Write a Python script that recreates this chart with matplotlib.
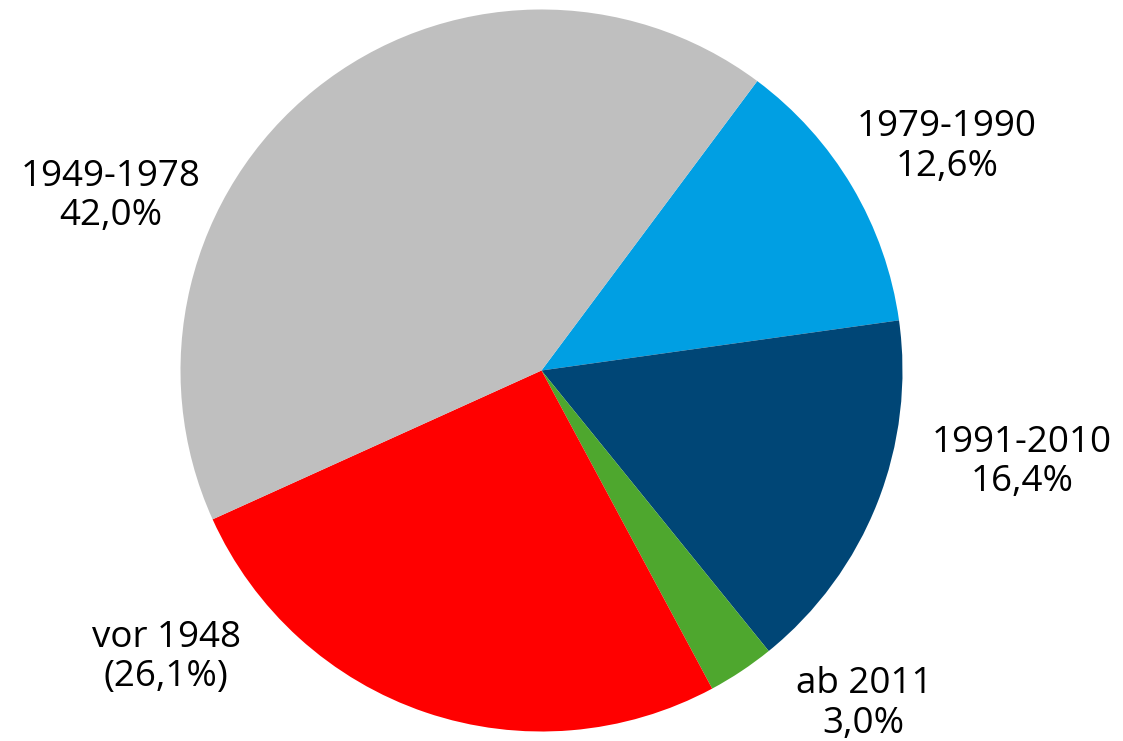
import matplotlib.pyplot as plt

plt.rcParams["font.family"] = ["Open Sans", "DejaVu Sans"]

# data (clockwise from the grey/blue edge)
labels = ["1979-1990\n12,6%", "1991-2010\n16,4%", "ab 2011\n3,0%",
          "vor 1948\n(26,1%)", "1949-1978\n42,0%"]
values = [12.6, 16.4, 3.0, 26.1, 42.0]
colors = ["#009FE3", "#004676", "#4EA72E", "#FF0000", "#BFBFBF"]

# label positions in pie units (radius = 1)
label_pos = [(1.123, 0.619), (1.331, -0.255), (0.893, -0.924),
             (-1.040, -0.794), (-1.193, 0.483)]

fig = plt.figure(figsize=(11.23, 7.41), dpi=100)
ax = fig.add_axes([(541.5 - 361) / 1123, (741 - 370.5 - 361) / 741,
                   722 / 1123, 722 / 741])

ax.pie(
    values,
    colors=colors,
    startangle=53.3,
    counterclock=False,
    radius=1,
    wedgeprops={"linewidth": 0},
)

for lab, (x, y) in zip(labels, label_pos):
    ax.text(x, y, lab, ha="center", va="center", multialignment="center",
            fontsize=26.5, linespacing=1.12, clip_on=False)

ax.set_xlim(-1, 1)
ax.set_ylim(-1, 1)
ax.set_aspect("equal")
ax.axis("off")

fig.savefig("out.png", dpi=100)
